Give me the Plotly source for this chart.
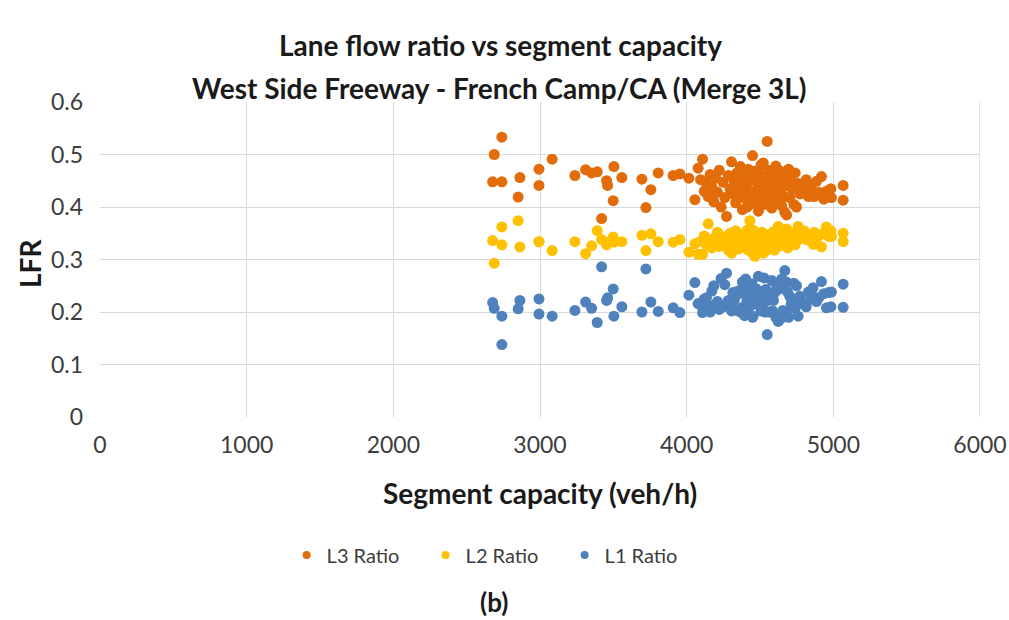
import plotly.graph_objects as go

capacity = [2677, 2688, 2740, 2740, 2851, 2863, 2993, 2993, 3083, 3238, 3311, 3352, 3390, 3420,
            3454, 3461, 3499, 3504, 3558, 3695, 3722, 3756, 3806, 3908, 3954, 4015,
            4056, 4078, 4095, 4108, 4120, 4135, 4147, 4160, 4172, 4185, 4198, 4210, 4222, 4235,
            4248, 4260, 4272, 4284, 4296, 4306, 4315, 4325, 4334, 4342, 4350, 4358, 4366, 4373,
            4380, 4388, 4395, 4402, 4410, 4413, 4420, 4427, 4431, 4438, 4444, 4449, 4453, 4458,
            4465, 4471, 4477, 4483, 4489, 4495, 4501, 4507, 4513, 4518, 4522, 4528, 4534, 4540,
            4549, 4555, 4561, 4567, 4573, 4580, 4586, 4592, 4600, 4608, 4616, 4624, 4632, 4640,
            4648, 4656, 4664, 4669, 4675, 4681, 4688, 4695, 4703, 4712, 4722, 4731, 4740, 4749,
            4760, 4772, 4785, 4800, 4815, 4830, 4848, 4862, 4870, 4885, 4900, 4919, 4935, 4953,
            4969, 4983, 4987, 5067, 5067]

l3_ratio = [0.448, 0.500, 0.533, 0.448, 0.419, 0.456, 0.472, 0.441, 0.491, 0.460, 0.471, 0.465, 0.467, 0.378,
            0.450, 0.441, 0.412, 0.477, 0.456, 0.453, 0.399, 0.433, 0.465, 0.460, 0.463, 0.455,
            0.414, 0.474, 0.452, 0.491, 0.430, 0.445, 0.420, 0.462, 0.438, 0.410, 0.455, 0.428, 0.470, 0.400,
            0.447, 0.418, 0.382, 0.460, 0.435, 0.486, 0.425, 0.450, 0.408, 0.465, 0.440, 0.420, 0.477, 0.452,
            0.395, 0.433, 0.462, 0.415, 0.445, 0.400, 0.472, 0.430, 0.405, 0.458, 0.420, 0.498, 0.452, 0.425,
            0.468, 0.410, 0.447, 0.435, 0.392, 0.462, 0.428, 0.480, 0.418, 0.445, 0.484, 0.405, 0.455, 0.432,
            0.525, 0.440, 0.470, 0.415, 0.450, 0.398, 0.462, 0.425, 0.445, 0.478, 0.410, 0.455, 0.430, 0.468,
            0.402, 0.447, 0.420, 0.390, 0.458, 0.385, 0.440, 0.472, 0.418, 0.452, 0.435, 0.405, 0.465, 0.400,
            0.445, 0.425, 0.440, 0.430, 0.452, 0.420, 0.440, 0.425, 0.420, 0.449, 0.428, 0.458, 0.415, 0.430,
            0.419, 0.435, 0.418, 0.441, 0.413]

l2_ratio = [0.336, 0.293, 0.328, 0.362, 0.374, 0.324, 0.334, 0.334, 0.317, 0.334, 0.311, 0.326, 0.355, 0.338,
            0.328, 0.333, 0.343, 0.333, 0.334, 0.346, 0.317, 0.349, 0.334, 0.333, 0.338, 0.314,
            0.330, 0.310, 0.335, 0.310, 0.345, 0.328, 0.368, 0.338, 0.322, 0.340, 0.330, 0.352, 0.325, 0.336,
            0.343, 0.330, 0.344, 0.318, 0.350, 0.312, 0.338, 0.327, 0.355, 0.332, 0.320, 0.345, 0.323, 0.340,
            0.348, 0.330, 0.345, 0.322, 0.335, 0.356, 0.318, 0.342, 0.374, 0.330, 0.326, 0.312, 0.356, 0.337,
            0.306, 0.345, 0.328, 0.350, 0.340, 0.322, 0.333, 0.318, 0.352, 0.340, 0.312, 0.330, 0.345, 0.325,
            0.318, 0.338, 0.330, 0.348, 0.322, 0.342, 0.336, 0.353, 0.318, 0.332, 0.340, 0.363, 0.326, 0.345,
            0.335, 0.350, 0.330, 0.331, 0.342, 0.358, 0.322, 0.338, 0.352, 0.333, 0.347, 0.340, 0.328, 0.350,
            0.363, 0.345, 0.340, 0.355, 0.338, 0.342, 0.335, 0.329, 0.352, 0.331, 0.345, 0.324, 0.350, 0.362,
            0.344, 0.355, 0.344, 0.350, 0.334]

l1_ratio = [0.218, 0.207, 0.138, 0.192, 0.206, 0.222, 0.196, 0.225, 0.192, 0.203, 0.219, 0.207, 0.180, 0.286,
            0.222, 0.227, 0.244, 0.192, 0.210, 0.200, 0.282, 0.219, 0.201, 0.208, 0.199, 0.232,
            0.256, 0.216, 0.213, 0.199, 0.225, 0.227, 0.212, 0.200, 0.240, 0.250, 0.215, 0.220, 0.205, 0.264,
            0.210, 0.252, 0.274, 0.222, 0.215, 0.202, 0.237, 0.223, 0.237, 0.203, 0.240, 0.235, 0.200, 0.208,
            0.257, 0.237, 0.193, 0.263, 0.220, 0.244, 0.210, 0.228, 0.221, 0.212, 0.254, 0.190, 0.192, 0.238,
            0.226, 0.245, 0.225, 0.215, 0.268, 0.216, 0.239, 0.202, 0.230, 0.215, 0.204, 0.265, 0.200, 0.243,
            0.157, 0.222, 0.200, 0.237, 0.228, 0.260, 0.202, 0.222, 0.237, 0.190, 0.250, 0.182, 0.244, 0.187,
            0.263, 0.203, 0.250, 0.279, 0.200, 0.257, 0.238, 0.190, 0.230, 0.215, 0.218, 0.255, 0.207, 0.250,
            0.192, 0.230, 0.220, 0.215, 0.210, 0.238, 0.225, 0.246, 0.228, 0.220, 0.227, 0.258, 0.235, 0.208,
            0.237, 0.210, 0.238, 0.209, 0.253]

series_names = ["L3 Ratio", "L2 Ratio", "L1 Ratio"]
series_values = [l3_ratio, l2_ratio, l1_ratio]
series_colors = ["#E36C0A", "#FFC000", "#4F81BD"]

x_ticks = [0, 1000, 2000, 3000, 4000, 5000, 6000]
y_ticks = [0, 0.1, 0.2, 0.3, 0.4, 0.5, 0.6]
y_tick_labels = ["0", "0.1", "0.2", "0.3", "0.4", "0.5", "0.6"]

title_lines = ["Lane flow ratio vs segment capacity",
               "West Side Freeway - French Camp/CA (Merge 3L)"]
x_title = "Segment capacity (veh/h)"
y_title = "LFR"
panel_label = "(b)"

FONT = "Lato, 'Open Sans', sans-serif"
TXT = "#1a1a1a"
TICK = "#3c3c3c"

fig = go.Figure()
for name, vals, col in zip(series_names, series_values, series_colors):
    fig.add_trace(go.Scatter(x=capacity, y=vals, mode="markers", name=name,
                             marker=dict(color=col, size=11), showlegend=False))
for name, col in zip(series_names, series_colors):
    fig.add_trace(go.Scatter(x=[None], y=[None], mode="markers", name=name,
                             marker=dict(color=col, size=8), showlegend=True))

grid = "#D9D9D9"
# plot area: x 100..980 px, y 102..417 px
H = 315.0
def py(pix):
    return (417 - pix) / H

fig.update_layout(
    width=1009, height=620,
    paper_bgcolor="white", plot_bgcolor="white",
    margin=dict(l=100, r=29, t=102, b=203, autoexpand=False),
    font=dict(family=FONT, color=TXT, size=18),
    xaxis=dict(range=[0, 6000], tickvals=x_ticks, showgrid=True, gridcolor=grid, gridwidth=1.3,
               zeroline=False, showline=False, ticks="", automargin=False, ticklabelstandoff=12,
               tickfont=dict(size=23, color=TICK)),
    yaxis=dict(range=[0, 0.6], tickvals=y_ticks, ticktext=y_tick_labels, showgrid=True, gridcolor=grid,
               gridwidth=1.3, zeroline=False, showline=False, ticks="", ticklabelstandoff=16,
               automargin=False, tickfont=dict(size=23, color=TICK)),
    legend=dict(orientation="h", x=0.449, xanchor="center", y=py(555), yanchor="middle",
                font=dict(size=20, color=TICK), entrywidth=94, entrywidthmode="pixels",
                itemwidth=30, tracegroupgap=0),
    annotations=[
        dict(text="<b>%s</b>" % title_lines[0], xref="paper", yref="paper", x=(500 - 100) / 880, y=py(45),
             xanchor="center", yanchor="middle", showarrow=False, font=dict(size=28, color=TXT)),
        dict(text="<b>%s</b>" % title_lines[1], xref="paper", yref="paper", x=(499 - 100) / 880, y=py(88),
             xanchor="center", yanchor="middle", showarrow=False, font=dict(size=28, color=TXT)),
        dict(text="<b>%s</b>" % x_title, xref="paper", yref="paper", x=0.5, y=py(493),
             xanchor="center", yanchor="middle", showarrow=False, font=dict(size=28, color=TXT)),
        dict(text="<b>%s</b>" % y_title, xref="paper", yref="paper", x=(30 - 100) / 880, y=py(264),
             xanchor="center", yanchor="middle", showarrow=False, textangle=-90,
             font=dict(size=28, color=TXT)),
        dict(text="<b>%s</b>" % panel_label, xref="paper", yref="paper", x=(494 - 100) / 880, y=py(602),
             xanchor="center", yanchor="middle", showarrow=False, font=dict(size=26, color=TXT)),
    ],
)
fig.add_shape(type="line", xref="x", yref="y", x0=6000, x1=6000, y0=0, y1=0.6,
              line=dict(color=grid, width=1.3), layer="below")
fig.write_html("out.html", config={"displayModeBar": False},
               post_script="document.body.style.margin='0';document.body.style.overflow='hidden';")
